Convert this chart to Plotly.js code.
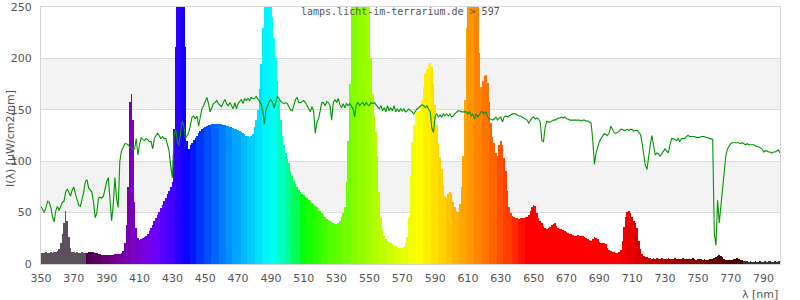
<!DOCTYPE html>
<html>
<head>
<meta charset="utf-8">
<script src="https://cdn.plot.ly/plotly-3.0.1.min.js"></script>
<style>
html,body{margin:0;padding:0;background:#fff;}
#chart{width:800px;height:300px;}
</style>
</head>
<body>
<div id="chart"></div>
<script>
// wavelength range (nm), 1 nm steps
var wlStart = 350, wlEnd = 800;

// lamp spectrum I(λ) [µW/cm2/nm], one value per nm from 350 to 800
var lampSpectrum = [
 11,11,11,12,11,11,12,11,12,12,
 13,15,20,29,40,52,42,26,16,12,
 12,11,12,11,11,12,11,11,11,12,
 12,12,12,11,11,10,10,9,9,9,
 9,9,9,9,9,10,10,10,10,11,
 13,20,38,75,158,165,140,60,35,25,
 23,24,25,26,27,29,32,35,38,42,
 45,48,51,54,57,61,64,68,71,75,
 80,131,211,280,320,330,320,280,211,120,
 112,116,118,121,123,125,127,129,131,132,
 133,134,135,135,136,136,136,136,136,136,
 136,135,135,134,134,133,133,132,131,131,
 130,129,128,127,126,125,125,124,125,126,
 133,140,150,170,195,230,265,290,300,295,
 270,240,220,200,178,160,140,125,116,108,
 102,98,90,86,81,78,75,72,70,68,
 67,65,64,62,61,59,58,56,55,53,
 52,50,48,46,44,43,42,41,40,39,
 39,40,42,46,50,55,80,120,175,260,
 290,320,340,360,380,380,370,350,320,290,
 250,200,165,145,128,105,70,45,33,27,
 24,22,21,20,19,18,18,17,16,16,
 16,17,20,26,45,87,119,135,144,148,
 149,154,160,172,185,190,194,196,192,175,
 155,135,118,104,92,77,66,64,68,70,
 68,60,55,52,51,58,75,105,160,230,
 280,320,340,330,310,290,260,205,172,178,
 183,184,176,158,137,124,118,108,105,116,
 120,116,103,90,71,55,50,47,46,45,
 45,44,45,45,45,46,46,48,52,55,
 57,56,50,45,42,40,37,35,34,35,
 36,38,39,40,37,35,34,34,33,32,
 31,30,29,29,28,27,27,28,27,27,
 27,26,25,24,23,22,24,26,25,24,
 21,20,20,20,19,16,14,13,12,12,
 11,11,12,14,22,36,46,51,52,50,
 46,42,40,35,22,15,10,8,7,7,
 6,6,5,6,5,6,5,5,6,5,
 5,5,6,5,5,5,6,5,5,5,
 5,6,5,5,5,5,5,6,5,4,
 5,5,5,4,5,4,4,5,5,5,
 6,7,8,9,8,7,5,4,4,4,
 4,4,5,5,6,5,4,4,3,3,
 3,2,3,2,2,3,2,2,3,2,
 2,3,2,3,3,2,2,3,2,3,
 3
];

// sunlight reference curve, one value per nm from 350 to 800
var sunReference = [
 56,53,50,55,61,60,55,46,41,52,
 56,52,57,60,61,70,73,70,66,72,
 75,68,61,57,56,62,70,80,82,74,
 72,70,60,45,50,64,65,64,66,75,
 80,84,62,42,58,84,64,55,100,110,
 113,117,117,116,114,113,111,112,122,106,
 116,123,121,120,122,121,119,119,112,122,
 125,127,125,122,124,122,122,117,110,95,
 84,125,131,119,116,128,139,134,122,125,
 128,135,143,144,141,144,134,143,151,154,
 159,162,156,148,152,156,157,159,156,154,
 153,157,160,156,154,157,154,151,157,151,
 156,158,160,156,161,159,161,159,162,161,
 161,163,161,158,156,150,136,150,154,158,
 160,157,152,158,163,161,158,157,156,157,
 156,153,150,149,154,160,162,157,157,158,
 159,157,154,151,148,153,149,127,138,141,
 150,157,157,154,158,157,154,140,157,160,
 157,161,155,152,156,152,156,154,156,154,
 151,143,155,157,154,156,157,154,157,155,
 154,157,156,157,155,154,151,154,149,152,
 148,154,149,152,149,154,148,151,148,151,
 149,151,148,149,151,149,148,146,149,151,
 152,154,155,154,152,154,151,148,132,128,
 144,146,143,145,143,146,144,146,144,146,
 143,144,146,148,149,149,148,148,148,148,
 146,148,144,146,141,146,143,146,148,148,
 146,148,143,141,141,140,141,143,140,142,
 143,138,143,144,143,144,145,146,146,146,
 145,144,144,143,142,141,140,137,140,142,
 143,141,142,141,138,120,119,133,139,138,
 138,139,140,140,141,142,142,143,142,143,
 141,141,140,140,140,140,140,140,140,139,
 140,140,139,139,138,137,120,97,108,114,
 119,122,125,127,126,125,128,134,131,128,
 127,128,129,131,131,130,130,131,130,131,
 131,129,130,130,128,126,118,104,96,92,
 106,116,125,116,106,108,107,105,107,110,
 112,110,108,116,122,122,121,120,122,119,
 122,122,122,124,125,124,124,124,124,123,
 123,123,124,124,124,123,123,122,122,121,
 30,18,62,40,58,70,88,105,112,115,
 117,118,118,118,118,118,117,118,117,116,
 117,116,116,116,116,115,114,114,113,112,
 109,110,110,109,109,108,109,109,110,111,
 108
];

var yTicks = [0, 50, 100, 150, 200, 250];
var xTicks = [350,370,390,410,430,450,470,490,510,530,550,570,590,610,630,650,670,690,710,730,750,770,790];
var chartTitle = 'lamps.licht-im-terrarium.de > 597';
var yTitle = 'I(\u03bb) [\u00b5W/cm2/nm]';
var xTitle = '\u03bb [nm]';

var wavelengths = [];
for (var w = wlStart; w <= wlEnd; w++) wavelengths.push(w);

function spectralColor(w) {
  if (w < 378) return 'rgb(92,80,92)';
  if (w >= 778) return 'rgb(51,51,51)';
  var step = 4.45;
  var b = 378 + (Math.floor((w - 378) / step) + 0.5) * step;
  var r, g, bl;
  if (b < 440) { r = (440 - b) / 60; g = 0; bl = 1; }
  else if (b < 490) { r = 0; g = (b - 440) / 50; bl = 1; }
  else if (b < 510) { r = 0; g = 1; bl = (510 - b) / 20; }
  else if (b < 580) { r = (b - 510) / 70; g = 1; bl = 0; }
  else if (b < 645) { r = 1; g = (645 - b) / 65; bl = 0; }
  else { r = 1; g = 0; bl = 0; }
  var f = 1;
  if (b < 420) f = 0.3 + 0.7 * (b - 380) / 40;
  else if (b > 700) f = 1 - 0.8 * (b - 700) / 80;
  function c(v) { return Math.round(255 * Math.pow(Math.max(v, 0), 0.8) * f); }
  return 'rgb(' + c(r) + ',' + c(g) + ',' + c(bl) + ')';
}
var barColors = wavelengths.map(spectralColor);

var fontFam = '"DejaVu Sans", Verdana, sans-serif';
var traces = [
  {
    type: 'bar', x: wavelengths, y: lampSpectrum,
    marker: { color: barColors, line: { width: 0 } },
    width: 1, hoverinfo: 'skip', showlegend: false
  },
  {
    type: 'scatter', mode: 'lines', x: wavelengths, y: sunReference,
    line: { color: 'rgb(0,150,0)', width: 1.1 },
    hoverinfo: 'skip', showlegend: false
  }
];

var layout = {
  width: 800, height: 300,
  margin: { l: 41, r: 20, t: 7, b: 36 },
  paper_bgcolor: '#ffffff', plot_bgcolor: '#ffffff',
  bargap: 0,
  font: { family: fontFam, size: 11, color: '#555' },
  xaxis: {
    range: [350, 800], tickvals: xTicks, ticktext: xTicks.map(String),
    ticks: '', showgrid: false, zeroline: false,
    showline: true, linecolor: '#d6d6d6', linewidth: 1, mirror: true,
    tickfont: { family: fontFam, size: 11, color: '#555' },
    ticklabelstandoff: 4
  },
  yaxis: {
    range: [0, 250], tickvals: yTicks, ticktext: yTicks.map(String),
    ticks: '', showgrid: true, gridcolor: '#dcdcdc', gridwidth: 1, zeroline: false,
    showline: true, linecolor: '#d6d6d6', linewidth: 1, mirror: true,
    tickfont: { family: fontFam, size: 11, color: '#555' },
    ticklabelstandoff: 6, ticklabeloverflow: 'allow'
  },
  shapes: [
    { type: 'rect', xref: 'paper', x0: 0, x1: 1, yref: 'y', y0: 50, y1: 100,
      fillcolor: '#f3f3f3', line: { width: 0 }, layer: 'below' },
    { type: 'rect', xref: 'paper', x0: 0, x1: 1, yref: 'y', y0: 150, y1: 200,
      fillcolor: '#f3f3f3', line: { width: 0 }, layer: 'below' }
  ],
  annotations: [
    { text: chartTitle, xref: 'paper', yref: 'paper', x: 0.4865, y: 0.984,
      xanchor: 'center', yanchor: 'middle', showarrow: false,
      font: { family: '"DejaVu Sans Mono", monospace', size: 10, color: '#555' } },
    { text: yTitle, xref: 'paper', yref: 'paper', x: -0.042, y: 0.49,
      xanchor: 'center', yanchor: 'middle', textangle: -90, showarrow: false,
      font: { family: fontFam, size: 11, color: '#555' } },
    { text: xTitle, xref: 'paper', yref: 'paper', x: 1.0, y: -0.117,
      xanchor: 'right', yanchor: 'middle', showarrow: false,
      font: { family: fontFam, size: 11, color: '#555' } }
  ]
};

Plotly.newPlot('chart', traces, layout, { displayModeBar: false, staticPlot: true });
</script>
</body>
</html>
